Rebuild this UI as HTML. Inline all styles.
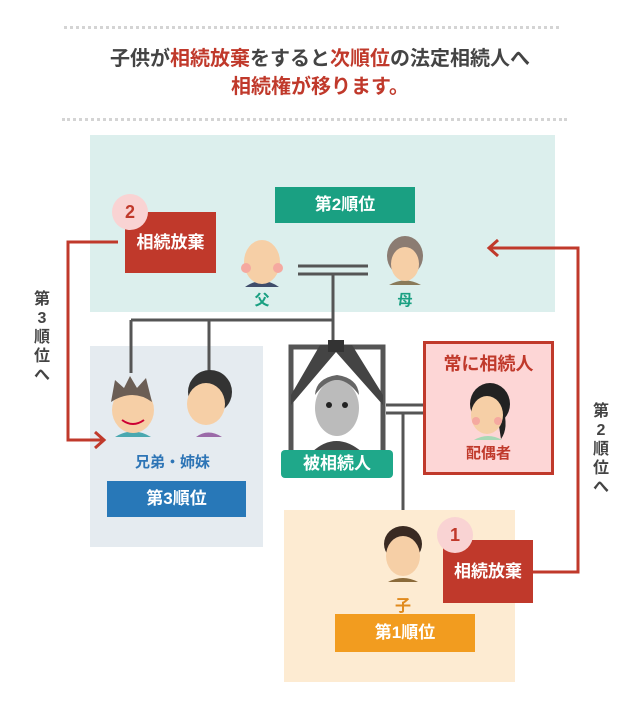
<!DOCTYPE html>
<html><head><meta charset="utf-8">
<style>
body{margin:0;width:640px;height:710px;background:#fff;position:relative;overflow:hidden;font-family:"Liberation Sans","Noto Sans CJK JP",sans-serif;font-weight:bold}
.a{position:absolute}
.dot{position:absolute;height:0;border-top:3px dotted #d4d4d4}
.t{position:absolute;left:0;width:640px;text-align:center;font-size:20px;color:#444;line-height:27px}
.r{color:#c0392b}
.lbl{position:absolute;color:#fff;text-align:center;font-size:17px}
.vt{position:absolute;width:20px;text-align:center;font-size:16px;line-height:19px;color:#444}
</style></head><body>
<div class="dot" style="left:64px;top:26px;width:495px"></div>
<div class="t" style="top:46px">子供が<span class="r">相続放棄</span>をすると<span class="r">次順位</span>の法定相続人へ</div>
<div class="t r" style="top:74px">相続権が移ります。</div>
<div class="dot" style="left:62px;top:118px;width:505px"></div>

<div class="a" style="left:90px;top:135px;width:465px;height:177px;background:#dcefed"></div>
<div class="a" style="left:90px;top:346px;width:173px;height:201px;background:#e5ebf0"></div>
<div class="a" style="left:284px;top:510px;width:231px;height:172px;background:#fdebd2"></div>

<svg class="a" style="left:0;top:0" width="640" height="710">
<g stroke="#555" stroke-width="3" fill="none">
<line x1="298" y1="266" x2="368" y2="266"/><line x1="298" y1="274" x2="368" y2="274"/>
<line x1="333" y1="274" x2="333" y2="345"/>
<line x1="131" y1="320" x2="333" y2="320"/>
<line x1="131" y1="320" x2="131" y2="373"/><line x1="209" y1="320" x2="209" y2="373"/>
<line x1="386" y1="405" x2="424" y2="405"/><line x1="386" y1="413" x2="424" y2="413"/>
<line x1="403" y1="413" x2="403" y2="510"/>
</g>
<g stroke="#c0392b" stroke-width="3" fill="none">
<polyline points="118,242 68,242 68,440 103,440"/>
<polyline points="95,432 104,440 95,448"/>
<polyline points="533,572 578,572 578,248 490,248"/>
<polyline points="498,240 489,248 498,256"/>
</g>
<rect x="291" y="347" width="92" height="108" fill="#fff" stroke="#555" stroke-width="5"/>
<path d="M320 345 L352 345 L383 395 L383 405 L336 352 L291 405 L291 395 Z" fill="#444"/>
<rect x="328" y="340" width="16" height="12" fill="#333"/>
<path d="M312 452 Q336 430 362 452 Z" fill="#444"/>
<ellipse cx="337" cy="408" rx="22" ry="28" fill="#bbb"/>
<path d="M315 395 Q337 365 359 395 Q358 378 337 375 Q316 378 315 395Z" fill="#666"/>
<circle cx="329" cy="405" r="3" fill="#222"/><circle cx="345" cy="405" r="3" fill="#222"/>
<path d="M245 287 Q262 275 279 287 Z" fill="#3f4d6b"/>
<ellipse cx="262" cy="262" rx="18" ry="22" fill="#f6cfa6"/>
<circle cx="246" cy="268" r="5" fill="#f5a9a0"/><circle cx="278" cy="268" r="5" fill="#f5a9a0"/>
<path d="M389 285 Q405 276 421 285 Z" fill="#8a7a5a"/>
<ellipse cx="405" cy="256" rx="18" ry="20" fill="#8b7c72"/>
<ellipse cx="405" cy="264" rx="14" ry="17" fill="#f6cfa6"/>
<path d="M115 437 Q133 426 151 437 Z" fill="#4aa8b0"/>
<ellipse cx="133" cy="410" rx="21" ry="23" fill="#f6cfa6"/>
<path d="M111 402 L115 380 L124 388 L130 376 L137 388 L146 378 L152 402 Q133 388 111 402Z" fill="#6b5e55"/>
<path d="M122 420 Q133 428 144 420" stroke="#c03" stroke-width="2" fill="none"/>
<path d="M196 437 Q208 428 222 437 Z" fill="#9b6aa8"/>
<ellipse cx="210" cy="392" rx="22" ry="22" fill="#333"/>
<ellipse cx="206" cy="404" rx="19" ry="21" fill="#f6cfa6"/>
<path d="M388 582 Q403 574 418 582 Z" fill="#8a6a3a"/>
<ellipse cx="403" cy="544" rx="19" ry="18" fill="#3a2a22"/>
<ellipse cx="403" cy="556" rx="17" ry="20" fill="#f6cfa6"/>
</svg>

<div class="lbl" style="left:275px;top:187px;width:140px;height:36px;line-height:36px;background:#1aa082">第2順位</div>
<div class="lbl" style="left:125px;top:212px;width:91px;height:61px;line-height:61px;background:#c0392b">相続放棄</div>
<div class="a" style="left:112px;top:194px;width:36px;height:36px;border-radius:50%;background:#f9d3d3;color:#c0392b;font-size:18px;text-align:center;line-height:36px">2</div>
<div class="a" style="left:252px;top:289px;width:20px;text-align:center;color:#1aa082;font-size:15px">父</div>
<div class="a" style="left:395px;top:289px;width:20px;text-align:center;color:#1aa082;font-size:15px">母</div>

<div class="vt" style="left:32px;top:290px">第<br>3<br>順<br>位<br>へ</div>
<div class="vt" style="left:591px;top:402px">第<br>2<br>順<br>位<br>へ</div>

<div class="a" style="left:100px;top:451px;width:145px;text-align:center;color:#2e75b6;font-size:15px">兄弟・姉妹</div>
<div class="lbl" style="left:107px;top:481px;width:139px;height:36px;line-height:36px;background:#2878b8">第3順位</div>

<div class="lbl" style="left:281px;top:450px;width:112px;height:28px;line-height:28px;background:#1fa88a;border-radius:4px">被相続人</div>

<div class="a" style="left:423px;top:341px;width:125px;height:128px;background:#fdd6d6;border:3px solid #c0392b"></div>
<svg class="a" style="left:423px;top:353px" width="131" height="100">
<path d="M51 87 Q65 79 79 87 Z" fill="#a8d8b5"/>
<ellipse cx="67" cy="51" rx="20" ry="21" fill="#222"/>
<path d="M80 55 Q86 75 78 86 L74 60Z" fill="#222"/>
<ellipse cx="64" cy="62" rx="16" ry="19" fill="#f6cfa6"/>
<circle cx="53" cy="68" r="4" fill="#f5a9a0"/><circle cx="75" cy="68" r="4" fill="#f5a9a0"/>
</svg>
<div class="a" style="left:423px;top:350px;width:131px;text-align:center;color:#c0392b;font-size:18px">常に相続人</div>
<div class="a" style="left:423px;top:442px;width:131px;text-align:center;color:#c0392b;font-size:15px">配偶者</div>

<div class="a" style="left:393px;top:592px;width:20px;text-align:center;color:#e08a1d;font-size:16px">子</div>
<div class="lbl" style="left:335px;top:614px;width:140px;height:38px;line-height:38px;background:#f29c1f">第1順位</div>
<div class="lbl" style="left:443px;top:540px;width:90px;height:63px;line-height:63px;background:#c0392b">相続放棄</div>
<div class="a" style="left:437px;top:517px;width:36px;height:36px;border-radius:50%;background:#f9d3d3;color:#c0392b;font-size:18px;text-align:center;line-height:36px">1</div>
</body></html>
